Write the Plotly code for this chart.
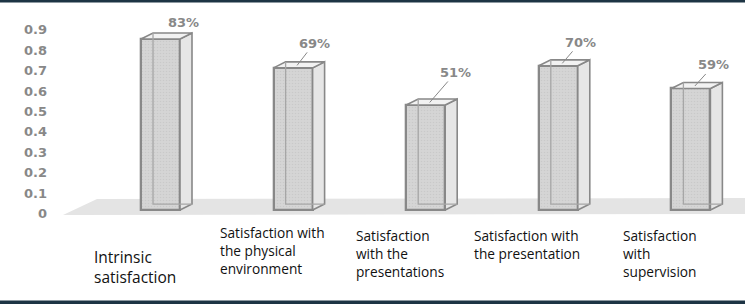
import plotly.graph_objects as go

# ---------------- data ----------------
categories = [
    "Intrinsic<br>satisfaction",
    "Satisfaction with<br>the physical<br>environment",
    "Satisfaction<br>with the<br>presentations",
    "Satisfaction with<br>the presentation",
    "Satisfaction<br>with<br>supervision",
]
values = [0.83, 0.69, 0.51, 0.70, 0.59]
y_tick_values = [0, 0.1, 0.2, 0.3, 0.4, 0.5, 0.6, 0.7, 0.8, 0.9]
y_tick_labels = ["0", "0.1", "0.2", "0.3", "0.4", "0.5", "0.6", "0.7", "0.8", "0.9"]

# ---------------- layout / style ----------------
W, H = 745, 304
ML, MR, MT, MB = 60, 0, 10, 64
PLOT_H = H - MT - MB
PLOT_W = W - ML - MR
X_RANGE = [-0.758, 4.408]
Y_BAR_RANGE = [-0.1456, 0.9709]     # axis used by the bars
Y_TICK_RANGE = [-0.1299, 0.9976]    # axis that shows the tick labels
BAR_W = 0.294
DEPTH_DX = 0.0905
DEPTH_DY = 0.029

EDGE = "#888888"
FRONT = "#d5d5d5"
SIDE = "#e6e6e6"
TOP = "#f2f2f2"
HIDDEN = "#a6a6a6"
GRAY_TXT = "#888888"
NAVY = "#1d3444"

# label styling (positions relative to category centre)
cat_font_sizes = [15.5, 13.7, 13.7, 13.7, 13.7]
cat_xshift = [-69, -75, -72, -86, -70]
cat_top_px = [244, 221, 224, 224, 224]

lab_ax = [19, 17, 26, 18, 19]
lab_ay = [-14, -22, -30, -21, -21]
lab_leader = [False, True, True, True, True]


def py_to_paper(py):
    return (H - MB - py) / PLOT_H


def px_to_paper(px):
    return (px - ML) / PLOT_W


xs = list(range(len(values)))

fig = go.Figure()

# front faces
fig.add_trace(go.Bar(
    x=xs, y=values, width=BAR_W,
    marker=dict(
        color=FRONT,
        line=dict(color=EDGE, width=2.3),
        pattern=dict(shape=".", fgcolor="#bdbdbd", bgcolor=FRONT, size=3, solidity=0.22),
    ),
    hoverinfo="skip", showlegend=False,
))

# side and top faces (derived from the data values)
hidden_x, hidden_y = [], []
for i, v in zip(xs, values):
    xl, xr = i - BAR_W / 2, i + BAR_W / 2
    fig.add_trace(go.Scatter(
        x=[xr, xr + DEPTH_DX, xr + DEPTH_DX, xr, xr],
        y=[0, DEPTH_DY, v + DEPTH_DY, v, 0],
        mode="lines", fill="toself", fillcolor=SIDE,
        line=dict(color=EDGE, width=1.6), hoverinfo="skip", showlegend=False,
    ))
    fig.add_trace(go.Scatter(
        x=[xl, xl + DEPTH_DX, xr + DEPTH_DX, xr, xl],
        y=[v, v + DEPTH_DY, v + DEPTH_DY, v, v],
        mode="lines", fill="toself", fillcolor=TOP,
        line=dict(color=EDGE, width=1.6), hoverinfo="skip", showlegend=False,
    ))
    hidden_x += [xl + DEPTH_DX, xl + DEPTH_DX, xr + DEPTH_DX, None]
    hidden_y += [v + DEPTH_DY, DEPTH_DY, DEPTH_DY, None]

fig.add_trace(go.Scatter(
    x=hidden_x, y=hidden_y, mode="lines",
    line=dict(color=HIDDEN, width=1.3), hoverinfo="skip", showlegend=False,
))

# empty trace so the tick axis is attached to the subplot
fig.add_trace(go.Scatter(x=[], y=[], yaxis="y2", showlegend=False, hoverinfo="skip"))

annotations = []
# data labels
for i, v in enumerate(values):
    txt = f"{round(v * 100)}%"
    common = dict(
        text=txt, xref="x", yref="y",
        x=i + 0.03, y=v + 0.012,
        font=dict(family="DejaVu Sans", size=13, color=GRAY_TXT, weight="bold"),
    )
    if lab_leader[i]:
        annotations.append(dict(
            **common, showarrow=True, ax=lab_ax[i], ay=lab_ay[i],
            arrowhead=0, arrowwidth=1, arrowcolor=EDGE, standoff=0, startstandoff=0,
        ))
    else:
        annotations.append(dict(**common, showarrow=False, xshift=lab_ax[i], yshift=-lab_ay[i]))

# category labels
for i, cat in enumerate(categories):
    annotations.append(dict(
        text=cat, xref="x", yref="paper",
        x=i, y=py_to_paper(cat_top_px[i]),
        xanchor="left", yanchor="top", align="left",
        xshift=cat_xshift[i], showarrow=False,
        font=dict(family="Open Sans", size=cat_font_sizes[i], color="#111111"),
    ))

shapes = [
    # floor
    dict(type="path", xref="x", yref="y", layer="below",
         path="M -0.735,-0.0243 L -0.479,0.0534 L 4.5,0.0583 L 4.5,-0.0194 Z",
         fillcolor="#e4e4e4", line=dict(width=0)),
    # top / bottom frame lines
    dict(type="rect", xref="paper", yref="paper",
         x0=px_to_paper(0), x1=px_to_paper(W), y0=py_to_paper(2.5), y1=py_to_paper(-1),
         fillcolor=NAVY, line=dict(width=0)),
    dict(type="rect", xref="paper", yref="paper",
         x0=px_to_paper(0), x1=px_to_paper(W), y0=py_to_paper(305), y1=py_to_paper(300.5),
         fillcolor=NAVY, line=dict(width=0)),
]

fig.update_layout(
    width=W, height=H,
    margin=dict(l=ML, r=MR, t=MT, b=MB),
    paper_bgcolor="white", plot_bgcolor="rgba(0,0,0,0)",
    showlegend=False,
    xaxis=dict(range=X_RANGE, showgrid=False, zeroline=False, showticklabels=False,
               showline=False, fixedrange=True),
    yaxis=dict(range=Y_BAR_RANGE, showgrid=False, zeroline=False, showticklabels=False,
               showline=False, fixedrange=True),
    yaxis2=dict(range=Y_TICK_RANGE, overlaying="y", side="left",
                tickvals=y_tick_values, ticktext=y_tick_labels,
                showgrid=False, zeroline=False, showline=False, ticks="",
                ticklabelstandoff=12,
                tickfont=dict(family="DejaVu Sans", size=13, color=GRAY_TXT, weight="bold"),
                fixedrange=True),
    annotations=annotations,
    shapes=shapes,
    bargap=0,
)

fig.write_html(
    "out.html",
    config={"displayModeBar": False},
    post_script="document.body.style.margin='0';document.body.style.overflow='hidden';",
)
